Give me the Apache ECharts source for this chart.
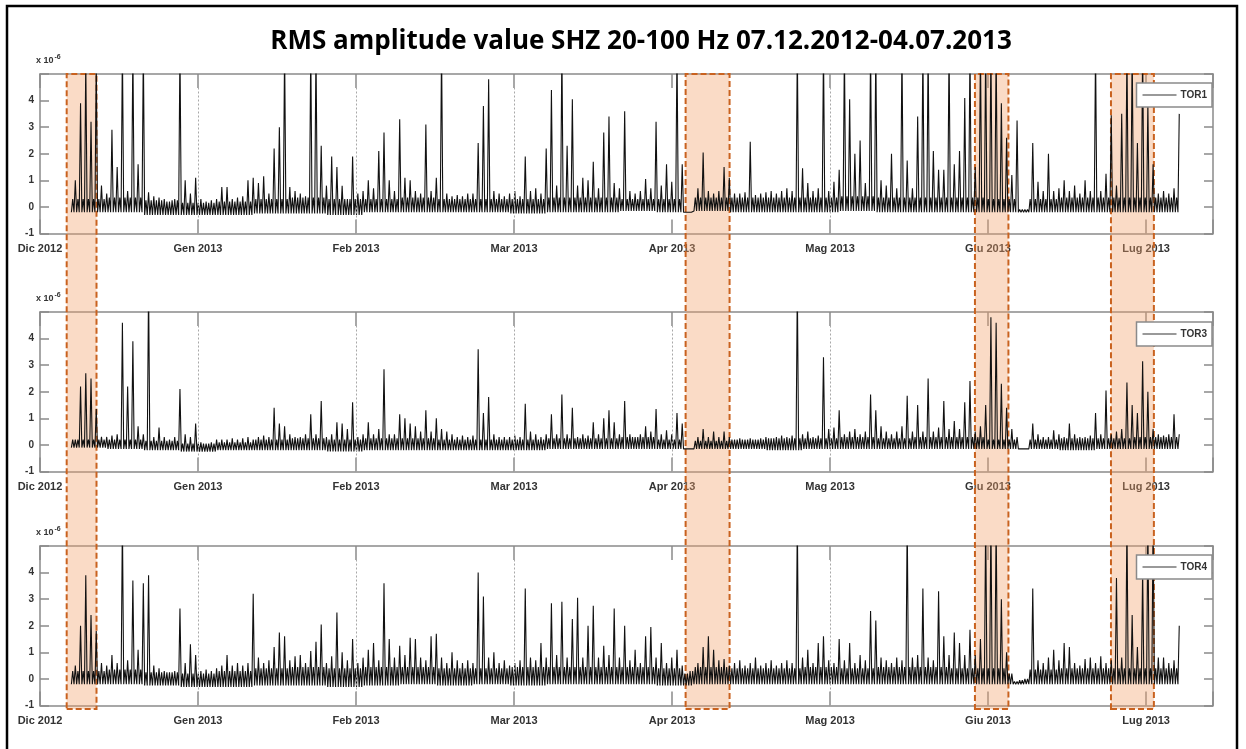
<!DOCTYPE html>
<html><head><meta charset="utf-8">
<script src="https://cdn.jsdelivr.net/npm/echarts@6/dist/echarts.min.js"></script>
<style>html,body{margin:0;padding:0;background:#fff}#c{width:1246px;height:749px}</style>
</head><body><div id="c"></div><script>
// x axis: days since 1 Dec 2012; MATLAB ticks evenly spaced every ~30.2 days
const monthLabels = ['Dic 2012','Gen 2013','Feb 2013','Mar 2013','Apr 2013','Mag 2013','Giu 2013','Lug 2013'];
const tickStep = 30.2;
const xMax = 224.2;
const startDay = 6; // 07.12.2012
const yTicks = [-1, 0, 1, 2, 3, 4];

// daily maxima (x 1e-6), days 6..217
const tor1Peak = [
1.0,3.9,5.5,3.2,5.5,0.8,0.5,2.9,1.5,6,
0.6,6,1.6,6,0.55,0.4,0.35,0.3,0.2,0.3,
6,1.0,0.5,1.1,0.3,0.2,0.25,0.3,0.75,0.75,
0.3,0.35,0.4,1.0,1.1,0.9,1.15,0.5,2.2,3.0,
6,0.75,0.6,0.5,0.4,6,6,2.3,0.8,1.9,
1.5,0.8,0.3,1.9,0.5,0.6,1.0,0.7,2.1,2.8,
1.0,0.6,3.3,1.1,1.0,0.6,0.5,3.1,0.6,1.1,
6,0.5,0.4,0.45,0.4,0.5,0.5,2.4,3.8,4.8,
0.6,0.5,0.4,0.5,0.6,0.4,1.9,0.6,0.7,0.5,
2.2,4.4,0.8,6,2.3,4.05,0.8,1.1,1.0,1.7,
0.7,2.8,3.4,0.9,0.7,3.6,0.6,0.5,0.6,1.05,
0.7,3.2,0.8,1.6,0.95,6,1.6,-0.15,-0.15,0.7,
2.05,0.6,0.5,0.6,1.5,1.1,0.5,0.5,0.55,2.45,
0.45,0.5,0.55,0.6,0.5,0.6,0.7,0.6,6,1.45,
0.9,0.6,0.7,6,0.6,0.95,1.4,6,4.05,2.0,
2.5,0.9,6,6,1.0,0.8,2.0,0.7,6,1.75,
0.7,3.4,6,6,2.1,1.4,1.4,6,1.6,2.1,
4.1,6,1.5,6,6,6,6,3.9,2.6,1.2,
3.25,-0.1,-0.1,2.4,0.95,0.6,2.0,0.6,0.7,1.0,
0.6,0.8,0.5,1.0,0.6,6,0.6,1.25,3.45,0.8,
3.5,6,6,2.4,6,3.9,1.6,0.5,0.6,0.5,
0.7,3.5];
const tor3Peak = [
0.2,2.2,2.7,2.5,1.35,0.3,0.3,0.35,0.4,4.6,
2.2,3.9,0.7,0.4,6,0.3,0.65,0.3,0.2,0.3,
2.1,0.4,0.3,0.8,0.1,0.05,0.1,0.2,0.2,0.2,
0.25,0.2,0.25,0.3,0.2,0.3,0.35,0.3,1.4,0.8,
0.7,0.4,0.3,0.3,0.4,1.15,0.4,1.65,0.3,0.4,
0.85,0.8,0.6,1.6,0.3,0.4,0.85,0.4,0.6,2.85,
0.4,0.4,1.15,1.0,0.8,0.7,0.5,1.3,0.5,1.0,
0.6,0.5,0.4,0.3,0.35,0.3,0.35,3.6,1.2,1.8,
0.4,0.3,0.3,0.3,0.35,0.3,1.55,0.5,0.4,0.3,
0.4,1.15,0.4,1.9,0.4,1.4,0.3,0.4,0.35,0.85,
0.4,1.0,1.3,0.85,0.4,1.65,0.4,0.3,0.4,0.7,
0.5,1.35,0.4,0.55,0.4,1.2,0.8,-0.1,-0.1,0.3,
0.6,0.3,0.5,0.3,0.5,0.3,0.2,0.25,0.2,0.25,
0.2,0.25,0.3,0.25,0.3,0.35,0.3,0.35,6,0.4,
0.5,0.3,0.35,3.3,0.6,0.65,1.3,0.4,0.5,0.6,
0.4,0.5,1.9,1.3,0.7,0.5,0.4,0.5,0.7,1.85,
0.5,1.5,0.5,2.5,0.5,0.65,1.65,0.6,0.9,0.6,
1.6,2.4,0.5,0.7,1.5,4.8,4.6,2.3,1.4,0.6,
0.3,-0.1,-0.1,0.8,0.4,0.3,0.3,0.55,0.4,0.3,
0.8,0.4,0.3,0.3,0.35,1.2,0.4,2.05,0.4,0.5,
0.6,2.35,1.5,1.2,3.15,2.0,0.6,0.4,0.35,0.4,
1.15,0.4];
const tor4Peak = [
0.5,2.0,3.9,2.4,1.8,0.6,0.5,0.9,0.6,6,
0.7,3.7,1.1,3.6,3.9,0.5,0.4,0.3,0.25,0.3,
2.65,0.6,1.3,0.9,0.3,0.35,0.3,0.4,0.5,0.9,
0.5,0.6,0.5,0.6,3.2,0.8,0.6,0.7,1.2,1.75,
1.6,0.7,0.85,0.9,0.6,1.05,1.4,2.05,0.6,0.85,
2.5,1.0,0.7,1.5,0.6,0.8,1.1,1.35,0.7,3.6,
1.5,0.8,1.25,0.9,1.55,1.5,0.8,0.7,1.6,1.7,
0.8,0.6,1.0,0.7,0.6,0.7,0.6,4.0,3.1,0.8,
1.0,0.6,0.7,0.5,0.6,0.7,3.4,0.8,0.7,1.35,
0.8,2.85,0.9,2.9,0.8,2.25,3.05,0.8,2.0,2.75,
0.8,1.25,0.9,2.65,0.8,2.0,0.7,1.1,0.6,1.6,
1.95,0.8,1.35,0.6,0.8,1.1,0.5,0.2,0.3,0.6,
1.2,1.6,1.1,0.7,0.75,0.5,0.6,0.7,0.5,0.6,
0.8,0.5,0.6,0.7,0.5,0.6,0.7,0.6,6,0.8,
1.1,0.6,1.35,1.6,0.7,0.6,1.5,0.7,1.35,0.6,
0.9,0.7,2.55,2.2,0.8,0.7,0.6,0.8,0.7,6,
0.8,0.9,3.4,0.8,0.7,3.3,1.6,0.9,1.75,1.35,
0.9,1.85,0.9,1.5,6,6,6,3.0,1.0,0.2,
-0.1,-0.05,0.0,3.4,0.7,0.6,0.8,1.1,0.7,1.35,
1.2,0.6,0.5,0.75,0.8,0.6,0.85,0.6,0.7,3.8,
0.8,6,2.4,1.2,4.1,6,6,0.8,0.8,0.6,
0.7,2.0];
// weekly band minima and typical band tops (x 1e-6), weeks from day 6
const tor1Low = [-0.2,-0.2,-0.3,-0.3,-0.3,-0.25,-0.25,-0.3,-0.2,-0.2,-0.2,-0.2,-0.25,-0.2,-0.2,-0.15,-0.2,-0.15,-0.2,-0.2,-0.2,-0.15,-0.2,-0.2,-0.2,-0.2,-0.2,-0.2,-0.2,-0.2,-0.2];
const tor3Low = [-0.1,-0.15,-0.2,-0.25,-0.2,-0.2,-0.2,-0.25,-0.2,-0.2,-0.2,-0.2,-0.2,-0.15,-0.15,-0.15,-0.15,-0.15,-0.15,-0.2,-0.15,-0.15,-0.15,-0.15,-0.15,-0.15,-0.15,-0.2,-0.15,-0.15,-0.15];
const tor4Low = [-0.2,-0.2,-0.25,-0.3,-0.3,-0.25,-0.25,-0.3,-0.25,-0.2,-0.25,-0.2,-0.25,-0.2,-0.2,-0.2,-0.25,-0.2,-0.2,-0.2,-0.2,-0.2,-0.2,-0.2,-0.2,-0.2,-0.2,-0.2,-0.2,-0.2,-0.2];
const tor1Band = [0.3,0.35,0.25,0.15,0.2,0.3,0.35,0.3,0.3,0.35,0.3,0.3,0.3,0.35,0.35,0.3,0.3,0.35,0.35,0.35,0.35,0.4,0.35,0.35,0.35,0.3,0.3,0.35,0.35,0.35,0.35];
const tor3Band = [0.2,0.2,0.15,0.05,0.1,0.2,0.25,0.2,0.25,0.25,0.2,0.2,0.2,0.25,0.25,0.3,0.2,0.15,0.2,0.25,0.25,0.3,0.25,0.3,0.3,0.2,0.2,0.25,0.25,0.3,0.3];
const tor4Band = [0.3,0.35,0.25,0.2,0.3,0.4,0.45,0.4,0.45,0.45,0.4,0.4,0.45,0.45,0.45,0.45,0.4,0.45,0.4,0.4,0.45,0.4,0.45,0.45,0.4,0.4,0.35,0.4,0.4,0.4,0.4];

const stations = ['TOR1','TOR3','TOR4'];
const peaks = [tor1Peak, tor3Peak, tor4Peak];
const lows = [tor1Low, tor3Low, tor4Low];
const bands = [tor1Band, tor3Band, tor4Band];
// highlighted intervals (days)
const highlightRanges = [[5.1,10.8],[123.4,131.8],[178.7,185.1],[204.7,212.9]];
// dotted vertical guide lines (days) per panel
const dottedDays = [[30.2,60.4,90.6,151],[30.2,60.4,90.6,120.8,151],[30.2,60.4,90.6,151]];

const panelTops = [74, 312, 546];
const panelH = 159.5;
const L = 40, W = 1173;
const FONT = 'Liberation Sans';

function buildLine(pk, lw, bd) {
  const out = [];
  for (let i = 0; i < pk.length; i++) {
    const d = startDay + i;
    const w = Math.floor(i / 7);
    const lo = Math.min(lw[w], pk[i]);
    const mid = Math.min(bd[w], Math.max(pk[i], lo));
    out.push([d, lo]);
    out.push([d + 0.25, mid]);
    out.push([d + 0.5, lo]);
    out.push([d + 0.75, pk[i]]);
  }
  return out;
}

const grids = [], xAxes = [], yAxes = [], series = [], legends = [];
const axisGray = '#8a8a8a';
panelTops.forEach((top, p) => {
  grids.push({left: L, top: top, width: W, height: panelH});
  xAxes.push({type:'value', gridIndex:p, min:0, max:xMax, interval:tickStep, position:'bottom',
    axisLine:{onZero:false, lineStyle:{color:axisGray, width:1.5}},
    axisTick:{inside:true, length:14, lineStyle:{color:axisGray, width:1.5}},
    splitLine:{show:false},
    axisLabel:{margin:10, color:'#333', fontFamily:FONT, fontWeight:'bold', fontSize:11,
      formatter: v => { const k = v / tickStep; return Math.abs(k - Math.round(k)) < 0.01 ? (monthLabels[Math.round(k)] || '') : ''; }}});
  xAxes.push({type:'value', gridIndex:p, min:0, max:xMax, interval:tickStep, position:'top',
    axisLine:{onZero:false, lineStyle:{color:axisGray, width:1.5}},
    axisTick:{inside:true, length:14, lineStyle:{color:axisGray, width:1.5}},
    splitLine:{show:false}, axisLabel:{show:false}});
  yAxes.push({type:'value', gridIndex:p, min:-1, max:5, interval:1, position:'left',
    name:'x 10{s|-6}', nameLocation:'end', nameGap:7,
    nameTextStyle:{align:'left', padding:[0,0,0,-4], color:'#333', fontFamily:FONT, fontWeight:'bold', fontSize:9,
      rich:{s:{fontSize:7, fontFamily:FONT, fontWeight:'bold', color:'#333', verticalAlign:'top', padding:[0,0,6,1]}}},
    axisLine:{show:true, onZero:false, lineStyle:{color:axisGray, width:1.5}},
    axisTick:{inside:true, length:9, lineStyle:{color:axisGray, width:1.5}},
    splitLine:{show:false},
    axisLabel:{margin:6, color:'#333', fontFamily:FONT, fontWeight:'bold', fontSize:10,
      formatter: v => (yTicks.indexOf(v) >= 0 ? String(v) : '')}});
  yAxes.push({type:'value', gridIndex:p, min:-1, max:5, interval:1, position:'right',
    axisLine:{show:true, onZero:false, lineStyle:{color:axisGray, width:1.5}},
    axisTick:{inside:true, length:9, lineStyle:{color:axisGray, width:1.5}},
    splitLine:{show:false}, axisLabel:{show:false}});
  series.push({name:stations[p], type:'line', xAxisIndex:2*p, yAxisIndex:2*p,
    data: buildLine(peaks[p], lows[p], bands[p]), symbol:'none', showSymbol:false, clip:true,
    lineStyle:{color:'#111', width:1.1}, itemStyle:{color:'#777'}, z:2,
    markLine:{silent:true, symbol:'none', label:{show:false},
      lineStyle:{color:'#a8a8a8', width:1, type:[2,2]},
      data: dottedDays[p].map(d => ({xAxis:d}))}});
});
// overlay grid for highlight boxes spanning all panels
grids.push({left: L, top: 74, width: W, height: 635});
xAxes.push({type:'value', gridIndex:3, min:0, max:xMax, show:false});
yAxes.push({type:'value', gridIndex:3, min:0, max:1, show:false});
series.push({type:'line', xAxisIndex:6, yAxisIndex:6, data:[], z:10, silent:true,
  markArea:{silent:true, itemStyle:{color:'rgba(242,160,105,0.38)', borderColor:'#c9621f', borderWidth:2, borderType:[6,3]},
    data: highlightRanges.map(r => [{xAxis:r[0], yAxis:0},{xAxis:r[1], yAxis:1}])}});

const legendTops = [83, 322, 555];
stations.forEach((s, p) => {
  legends.push({data:[{name:s, icon:'rect'}], right:34, top:legendTops[p], orient:'vertical',
    backgroundColor:'#fff', borderColor:axisGray, borderWidth:1.5, borderRadius:0,
    padding:[7,5,7,6], itemWidth:34, itemHeight:1.5, itemGap:0,
    itemStyle:{color:'#777'},
    textStyle:{fontFamily:FONT, fontWeight:'bold', fontSize:10, color:'#333', padding:[0,0,0,-1]}});
});

const chart = echarts.init(document.getElementById('c'), null, {renderer:'canvas'});
chart.setOption({
  animation:false,
  backgroundColor:'#fff',
  grid: grids, xAxis: xAxes, yAxis: yAxes, series: series, legend: legends,
  graphic:[
    {type:'text', x:641, y:42, z:100,
      style:{text:'RMS amplitude value SHZ 20-100 Hz 07.12.2012-04.07.2013', font:'bold 26px "Open Sans"', fill:'#000',
        align:'center', verticalAlign:'middle', textAlign:'center', textVerticalAlign:'middle'}},
    {type:'rect', z:100, silent:true, shape:{x:7, y:6, width:1230, height:780},
      style:{fill:'none', stroke:'#000', lineWidth:2.5}}
  ]
});
</script></body></html>
